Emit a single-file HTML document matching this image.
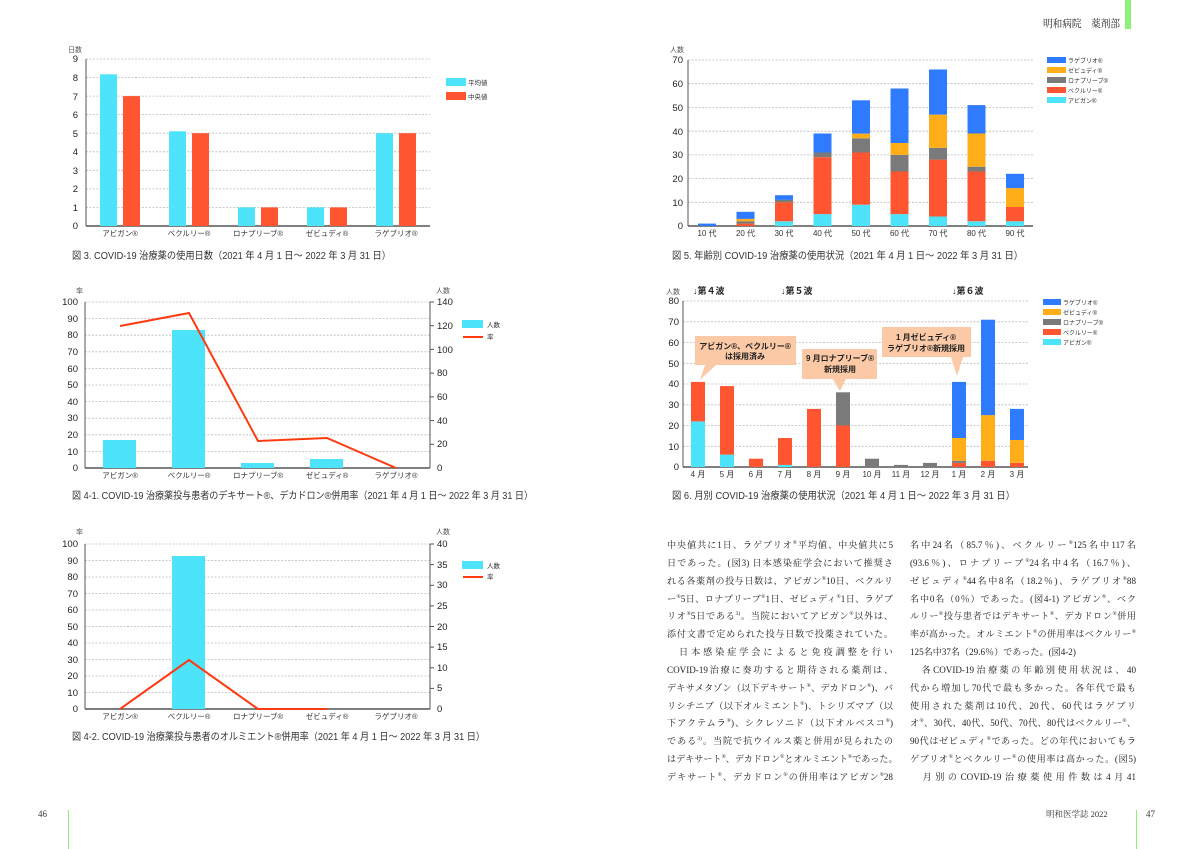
<!DOCTYPE html>
<html><head><meta charset="utf-8"><style>
html,body{margin:0;padding:0;background:#fff;width:1200px;height:849px;overflow:hidden;position:relative}
svg{position:absolute;left:0;top:0}
.tx{position:absolute;font-family:"Liberation Serif","Noto Serif CJK JP","Noto Serif CJK SC",serif;font-size:9.1px;color:#222;width:226px}
.tx div{height:17.85px;line-height:17.85px;text-align:justify;text-align-last:justify;white-space:nowrap;overflow:hidden}
.tx div.nl{text-align-last:left}
sup{font-size:5.5px;line-height:0}
</style></head><body>
<svg width="1200" height="849" viewBox="0 0 1200 849" font-family="Liberation Sans, Noto Sans CJK JP, sans-serif">
<rect x="1125" y="0" width="6" height="29" fill="#8cf27a"/>
<text x="1043" y="27" font-size="10.5" font-family="Liberation Serif, Noto Serif CJK JP, serif" fill="#222" textLength="77" lengthAdjust="spacingAndGlyphs">明和病院　薬剤部</text>
<line x1="68.5" y1="810" x2="68.5" y2="849" stroke="#8cf27a"/>
<line x1="1136.5" y1="810" x2="1136.5" y2="849" stroke="#8cf27a"/>
<text x="38" y="817" font-size="9" font-family="Liberation Serif, serif" fill="#333">46</text>
<text x="1046" y="817" font-size="8.5" font-family="Liberation Serif, Noto Serif CJK JP, serif" fill="#333">明和医学誌 2022</text>
<text x="1146" y="817" font-size="9" font-family="Liberation Serif, serif" fill="#333">47</text>

<!-- ===== Fig3 ===== -->
<g stroke="#bbb" stroke-dasharray="2,1.5" stroke-width="0.8">
<line x1="86" x2="430" y1="207.4" y2="207.4"/><line x1="86" x2="430" y1="188.9" y2="188.9"/><line x1="86" x2="430" y1="170.3" y2="170.3"/><line x1="86" x2="430" y1="151.8" y2="151.8"/><line x1="86" x2="430" y1="133.2" y2="133.2"/><line x1="86" x2="430" y1="114.6" y2="114.6"/><line x1="86" x2="430" y1="96.1" y2="96.1"/><line x1="86" x2="430" y1="77.5" y2="77.5"/><line x1="86" x2="430" y1="59" y2="59"/>
</g>
<line x1="86" y1="59" x2="86" y2="226" stroke="#555"/>
<line x1="86" y1="226" x2="430" y2="226" stroke="#555" stroke-width="1.5"/>
<g font-size="9.5" text-anchor="end" fill="#222">
<text x="78" y="229">0</text><text x="78" y="211">1</text><text x="78" y="192">2</text><text x="78" y="174">3</text><text x="78" y="155">4</text><text x="78" y="137">5</text><text x="78" y="118">6</text><text x="78" y="100">7</text><text x="78" y="81">8</text><text x="78" y="62">9</text>
</g>
<text x="68" y="52" font-size="7" fill="#555">日数</text>
<g fill="#4de3fb"><rect x="100" y="74.3" width="17" height="151.7"/><rect x="169" y="131.3" width="17" height="94.7"/><rect x="238" y="207.4" width="17" height="18.6"/><rect x="307" y="207.4" width="17" height="18.6"/><rect x="376" y="133.2" width="17" height="92.8"/></g>
<g fill="#ff5530"><rect x="123" y="96.1" width="17" height="129.9"/><rect x="192" y="133.2" width="17" height="92.8"/><rect x="261" y="207.4" width="17" height="18.6"/><rect x="330" y="207.4" width="17" height="18.6"/><rect x="399" y="133.2" width="17" height="92.8"/></g>
<g font-size="7.5" text-anchor="middle" fill="#333">
<text x="120" y="236">アビガン®</text><text x="189" y="236">ベクルリー®</text><text x="258" y="236">ロナプリーブ®</text><text x="327" y="236">ゼビュディ®</text><text x="396" y="236">ラゲブリオ®</text>
</g>
<rect x="446" y="78" width="20" height="8" fill="#4de3fb"/><rect x="446" y="92" width="20" height="8" fill="#ff5530"/>
<text x="468" y="85" font-size="6.5" fill="#333">平均値</text><text x="468" y="99" font-size="6.5" fill="#333">中央値</text>
<text x="72" y="259" font-size="10" fill="#333" textLength="319" lengthAdjust="spacingAndGlyphs">図 3. COVID-19 治療薬の使用日数（2021 年 4 月 1 日～ 2022 年 3 月 31 日）</text>

<!-- ===== Fig4-1 ===== -->
<g stroke="#bbb" stroke-dasharray="2,1.5" stroke-width="0.8">
<line x1="85" x2="430" y1="451.4" y2="451.4"/><line x1="85" x2="430" y1="434.8" y2="434.8"/><line x1="85" x2="430" y1="418.2" y2="418.2"/><line x1="85" x2="430" y1="401.6" y2="401.6"/><line x1="85" x2="430" y1="385" y2="385"/><line x1="85" x2="430" y1="368.4" y2="368.4"/><line x1="85" x2="430" y1="351.8" y2="351.8"/><line x1="85" x2="430" y1="335.2" y2="335.2"/><line x1="85" x2="430" y1="318.6" y2="318.6"/><line x1="85" x2="430" y1="302" y2="302"/>
</g>
<line x1="85" y1="302" x2="85" y2="468" stroke="#555"/><line x1="430" y1="302" x2="430" y2="468" stroke="#555"/>
<line x1="85" y1="468" x2="430" y2="468" stroke="#555" stroke-width="1.5"/>
<g stroke="#555"><line x1="430" x2="434" y1="444.3" y2="444.3"/><line x1="430" x2="434" y1="420.6" y2="420.6"/><line x1="430" x2="434" y1="396.9" y2="396.9"/><line x1="430" x2="434" y1="373.1" y2="373.1"/><line x1="430" x2="434" y1="349.4" y2="349.4"/><line x1="430" x2="434" y1="325.7" y2="325.7"/><line x1="430" x2="434" y1="302" y2="302"/></g>
<g font-size="9.5" text-anchor="end" fill="#222">
<text x="78" y="471">0</text><text x="78" y="455">10</text><text x="78" y="438">20</text><text x="78" y="421">30</text><text x="78" y="405">40</text><text x="78" y="388">50</text><text x="78" y="372">60</text><text x="78" y="355">70</text><text x="78" y="338">80</text><text x="78" y="322">90</text><text x="78" y="305">100</text>
</g>
<g font-size="9.5" fill="#222">
<text x="437" y="471">0</text><text x="437" y="447">20</text><text x="437" y="424">40</text><text x="437" y="400">60</text><text x="437" y="376">80</text><text x="437" y="353">100</text><text x="437" y="329">120</text><text x="437" y="305">140</text>
</g>
<text x="76" y="293" font-size="7" fill="#555">率</text><text x="436" y="293" font-size="7" fill="#555">人数</text>
<g fill="#4de3fb"><rect x="103" y="440" width="33" height="28"/><rect x="172" y="330" width="33" height="138"/><rect x="241" y="463" width="33" height="5"/><rect x="310" y="459" width="33" height="9"/></g>
<polyline points="120,326 189,313 258,441 327,438 396,468" fill="none" stroke="#ff3a10" stroke-width="2"/>
<g font-size="7.5" text-anchor="middle" fill="#333">
<text x="120" y="478">アビガン®</text><text x="189" y="478">ベクルリー®</text><text x="258" y="478">ロナプリーブ®</text><text x="327" y="478">ゼビュディ®</text><text x="396" y="478">ラゲブリオ®</text>
</g>
<rect x="462" y="320" width="21" height="8" fill="#4de3fb"/><line x1="463" y1="337" x2="483" y2="337" stroke="#ff3a10" stroke-width="2"/>
<text x="487" y="327" font-size="6.5" fill="#333">人数</text><text x="487" y="339" font-size="6.5" fill="#333">率</text>
<text x="72" y="499" font-size="10" fill="#333" textLength="461" lengthAdjust="spacingAndGlyphs">図 4-1. COVID-19 治療薬投与患者のデキサート®、デカドロン®併用率（2021 年 4 月 1 日～ 2022 年 3 月 31 日）</text>

<!-- ===== Fig4-2 ===== -->
<g stroke="#bbb" stroke-dasharray="2,1.5" stroke-width="0.8">
<line x1="85" x2="430" y1="692.5" y2="692.5"/><line x1="85" x2="430" y1="676" y2="676"/><line x1="85" x2="430" y1="659.5" y2="659.5"/><line x1="85" x2="430" y1="643" y2="643"/><line x1="85" x2="430" y1="626.5" y2="626.5"/><line x1="85" x2="430" y1="610" y2="610"/><line x1="85" x2="430" y1="593.5" y2="593.5"/><line x1="85" x2="430" y1="577" y2="577"/><line x1="85" x2="430" y1="560.5" y2="560.5"/><line x1="85" x2="430" y1="544" y2="544"/>
</g>
<line x1="85" y1="544" x2="85" y2="709" stroke="#555"/><line x1="430" y1="544" x2="430" y2="709" stroke="#555"/>
<line x1="85" y1="709" x2="430" y2="709" stroke="#555" stroke-width="1.5"/>
<g stroke="#555"><line x1="430" x2="434" y1="688.4" y2="688.4"/><line x1="430" x2="434" y1="667.8" y2="667.8"/><line x1="430" x2="434" y1="647.1" y2="647.1"/><line x1="430" x2="434" y1="626.5" y2="626.5"/><line x1="430" x2="434" y1="605.9" y2="605.9"/><line x1="430" x2="434" y1="585.3" y2="585.3"/><line x1="430" x2="434" y1="564.6" y2="564.6"/><line x1="430" x2="434" y1="544" y2="544"/></g>
<g font-size="9.5" text-anchor="end" fill="#222">
<text x="78" y="712">0</text><text x="78" y="696">10</text><text x="78" y="679">20</text><text x="78" y="663">30</text><text x="78" y="646">40</text><text x="78" y="630">50</text><text x="78" y="613">60</text><text x="78" y="597">70</text><text x="78" y="580">80</text><text x="78" y="564">90</text><text x="78" y="547">100</text>
</g>
<g font-size="9.5" fill="#222">
<text x="437" y="712">0</text><text x="437" y="691">5</text><text x="437" y="671">10</text><text x="437" y="650">15</text><text x="437" y="630">20</text><text x="437" y="609">25</text><text x="437" y="588">30</text><text x="437" y="568">35</text><text x="437" y="547">40</text>
</g>
<text x="76" y="534" font-size="7" fill="#555">率</text><text x="436" y="534" font-size="7" fill="#555">人数</text>
<rect x="172" y="556" width="33" height="153" fill="#4de3fb"/>
<polyline points="120,709 189,660 258,709 327,709" fill="none" stroke="#ff3a10" stroke-width="2"/>
<g font-size="7.5" text-anchor="middle" fill="#333">
<text x="120" y="719">アビガン®</text><text x="189" y="719">ベクルリー®</text><text x="258" y="719">ロナプリーブ®</text><text x="327" y="719">ゼビュディ®</text><text x="396" y="719">ラゲブリオ®</text>
</g>
<rect x="462" y="561" width="21" height="8" fill="#4de3fb"/><line x1="463" y1="577" x2="483" y2="577" stroke="#ff3a10" stroke-width="2"/>
<text x="487" y="568" font-size="6.5" fill="#333">人数</text><text x="487" y="579" font-size="6.5" fill="#333">率</text>
<text x="72" y="740" font-size="10" fill="#333" textLength="413" lengthAdjust="spacingAndGlyphs">図 4-2. COVID-19 治療薬投与患者のオルミエント®併用率（2021 年 4 月 1 日～ 2022 年 3 月 31 日）</text>

<!-- ===== Fig5 ===== -->
<g stroke="#bbb" stroke-dasharray="2,1.5" stroke-width="0.8">
<line x1="688" x2="1033" y1="202.3" y2="202.3"/><line x1="688" x2="1033" y1="178.6" y2="178.6"/><line x1="688" x2="1033" y1="154.9" y2="154.9"/><line x1="688" x2="1033" y1="131.2" y2="131.2"/><line x1="688" x2="1033" y1="107.4" y2="107.4"/><line x1="688" x2="1033" y1="83.7" y2="83.7"/><line x1="688" x2="1033" y1="60" y2="60"/>
</g>
<line x1="688" y1="60" x2="688" y2="226" stroke="#555"/>
<line x1="688" y1="226" x2="1033" y2="226" stroke="#555" stroke-width="1.5"/>
<g font-size="9.5" text-anchor="end" fill="#222">
<text x="683" y="229">0</text><text x="683" y="206">10</text><text x="683" y="182">20</text><text x="683" y="158">30</text><text x="683" y="135">40</text><text x="683" y="111">50</text><text x="683" y="87">60</text><text x="683" y="63">70</text>
</g>
<text x="670" y="52" font-size="7" fill="#555">人数</text>
<g>
<rect x="698" y="223.6" width="18" height="2.4" fill="#2f7bff"/>
<rect x="736.5" y="223.6" width="18" height="2.4" fill="#ff5530"/><rect x="736.5" y="221.2" width="18" height="2.4" fill="#7a7a7a"/><rect x="736.5" y="218.9" width="18" height="2.4" fill="#ffae1a"/><rect x="736.5" y="211.8" width="18" height="7.1" fill="#2f7bff"/>
<rect x="775" y="221.3" width="18" height="4.7" fill="#4de3fb"/><rect x="775" y="202.3" width="18" height="19" fill="#ff5530"/><rect x="775" y="199.9" width="18" height="2.4" fill="#7a7a7a"/><rect x="775" y="195.2" width="18" height="4.7" fill="#2f7bff"/>
<rect x="813.5" y="214.1" width="18" height="11.9" fill="#4de3fb"/><rect x="813.5" y="157.2" width="18" height="56.9" fill="#ff5530"/><rect x="813.5" y="152.5" width="18" height="4.7" fill="#7a7a7a"/><rect x="813.5" y="133.5" width="18" height="19" fill="#2f7bff"/>
<rect x="852" y="204.7" width="18" height="21.3" fill="#4de3fb"/><rect x="852" y="152.5" width="18" height="52.2" fill="#ff5530"/><rect x="852" y="138.3" width="18" height="14.2" fill="#7a7a7a"/><rect x="852" y="133.6" width="18" height="4.7" fill="#ffae1a"/><rect x="852" y="100.3" width="18" height="33.3" fill="#2f7bff"/>
<rect x="890.5" y="214.1" width="18" height="11.9" fill="#4de3fb"/><rect x="890.5" y="171.5" width="18" height="42.6" fill="#ff5530"/><rect x="890.5" y="154.9" width="18" height="16.6" fill="#7a7a7a"/><rect x="890.5" y="143" width="18" height="11.9" fill="#ffae1a"/><rect x="890.5" y="88.5" width="18" height="54.5" fill="#2f7bff"/>
<rect x="929" y="216.5" width="18" height="9.5" fill="#4de3fb"/><rect x="929" y="159.6" width="18" height="56.9" fill="#ff5530"/><rect x="929" y="147.8" width="18" height="11.8" fill="#7a7a7a"/><rect x="929" y="114.6" width="18" height="33.2" fill="#ffae1a"/><rect x="929" y="69.5" width="18" height="45.1" fill="#2f7bff"/>
<rect x="967.5" y="221.3" width="18" height="4.7" fill="#4de3fb"/><rect x="967.5" y="171.5" width="18" height="49.8" fill="#ff5530"/><rect x="967.5" y="166.7" width="18" height="4.8" fill="#7a7a7a"/><rect x="967.5" y="133.5" width="18" height="33.2" fill="#ffae1a"/><rect x="967.5" y="105.1" width="18" height="28.4" fill="#2f7bff"/>
<rect x="1006" y="221.3" width="18" height="4.7" fill="#4de3fb"/><rect x="1006" y="207" width="18" height="14.3" fill="#ff5530"/><rect x="1006" y="188.1" width="18" height="18.9" fill="#ffae1a"/><rect x="1006" y="173.8" width="18" height="14.3" fill="#2f7bff"/>
</g>
<g font-size="8" text-anchor="middle" fill="#333">
<text x="707" y="236">10 代</text><text x="745.5" y="236">20 代</text><text x="784" y="236">30 代</text><text x="822.5" y="236">40 代</text><text x="861" y="236">50 代</text><text x="899.5" y="236">60 代</text><text x="938" y="236">70 代</text><text x="976.5" y="236">80 代</text><text x="1015" y="236">90 代</text>
</g>
<g font-size="6" fill="#333">
<rect x="1047" y="57" width="19" height="6" fill="#2f7bff"/><text x="1068" y="63">ラゲブリオ®</text>
<rect x="1047" y="67" width="19" height="6" fill="#ffae1a"/><text x="1068" y="73">ゼビュディ®</text>
<rect x="1047" y="77" width="19" height="6" fill="#7a7a7a"/><text x="1068" y="83">ロナプリーブ®</text>
<rect x="1047" y="87" width="19" height="6" fill="#ff5530"/><text x="1068" y="93">ベクルリー®</text>
<rect x="1047" y="97" width="19" height="6" fill="#4de3fb"/><text x="1068" y="103">アビガン®</text>
</g>
<text x="672" y="259" font-size="10" fill="#333" textLength="351" lengthAdjust="spacingAndGlyphs">図 5. 年齢別 COVID-19 治療薬の使用状況（2021 年 4 月 1 日～ 2022 年 3 月 31 日）</text>

<!-- ===== Fig6 ===== -->
<g stroke="#bbb" stroke-dasharray="2,1.5" stroke-width="0.8">
<line x1="683" x2="1028" y1="446.3" y2="446.3"/><line x1="683" x2="1028" y1="425.5" y2="425.5"/><line x1="683" x2="1028" y1="404.8" y2="404.8"/><line x1="683" x2="1028" y1="384" y2="384"/><line x1="683" x2="1028" y1="363.3" y2="363.3"/><line x1="683" x2="1028" y1="342.5" y2="342.5"/><line x1="683" x2="1028" y1="321.8" y2="321.8"/><line x1="683" x2="1028" y1="301" y2="301"/>
</g>
<line x1="683" y1="301" x2="683" y2="467" stroke="#555"/>
<line x1="683" y1="467" x2="1028" y2="467" stroke="#555" stroke-width="1.5"/>
<g font-size="9.5" text-anchor="end" fill="#222">
<text x="679" y="470">0</text><text x="679" y="450">10</text><text x="679" y="429">20</text><text x="679" y="408">30</text><text x="679" y="387">40</text><text x="679" y="367">50</text><text x="679" y="346">60</text><text x="679" y="325">70</text><text x="679" y="304">80</text>
</g>
<text x="666" y="294" font-size="7" fill="#555">人数</text>
<g font-size="9" font-weight="bold" fill="#222"><text x="693" y="294">↓第４波</text><text x="781" y="294">↓第５波</text><text x="952" y="294">↓第６波</text></g>
<g>
<rect x="691" y="421.4" width="14" height="45.6" fill="#4de3fb"/><rect x="691" y="381.9" width="14" height="39.5" fill="#ff5530"/>
<rect x="720" y="454.6" width="14" height="12.4" fill="#4de3fb"/><rect x="720" y="386.1" width="14" height="68.5" fill="#ff5530"/>
<rect x="749" y="458.7" width="14" height="8.3" fill="#ff5530"/>
<rect x="778" y="464.9" width="14" height="2.1" fill="#4de3fb"/><rect x="778" y="438" width="14" height="26.9" fill="#ff5530"/>
<rect x="807" y="408.9" width="14" height="58.1" fill="#ff5530"/>
<rect x="836" y="425.5" width="14" height="41.5" fill="#ff5530"/><rect x="836" y="392.3" width="14" height="33.2" fill="#7a7a7a"/>
<rect x="865" y="458.7" width="14" height="8.3" fill="#7a7a7a"/>
<rect x="894" y="464.9" width="14" height="2.1" fill="#7a7a7a"/>
<rect x="923" y="462.9" width="14" height="4.1" fill="#7a7a7a"/>
<rect x="952" y="462.9" width="14" height="4.1" fill="#ff5530"/><rect x="952" y="460.8" width="14" height="2.1" fill="#7a7a7a"/><rect x="952" y="438" width="14" height="22.8" fill="#ffae1a"/><rect x="952" y="381.9" width="14" height="56.1" fill="#2f7bff"/>
<rect x="981" y="460.8" width="14" height="6.2" fill="#ff5530"/><rect x="981" y="415.1" width="14" height="45.7" fill="#ffae1a"/><rect x="981" y="319.7" width="14" height="95.4" fill="#2f7bff"/>
<rect x="1010" y="462.9" width="14" height="4.1" fill="#ff5530"/><rect x="1010" y="440" width="14" height="22.9" fill="#ffae1a"/><rect x="1010" y="408.9" width="14" height="31.1" fill="#2f7bff"/>
</g>
<g font-size="8" text-anchor="middle" fill="#333">
<text x="698" y="477">4 月</text><text x="727" y="477">5 月</text><text x="756" y="477">6 月</text><text x="785" y="477">7 月</text><text x="814" y="477">8 月</text><text x="843" y="477">9 月</text><text x="872" y="477">10 月</text><text x="901" y="477">11 月</text><text x="930" y="477">12 月</text><text x="959" y="477">1 月</text><text x="988" y="477">2 月</text><text x="1017" y="477">3 月</text>
</g>
<g fill="#fbc9a6">
<polygon points="695,336 796,336 796,365 716,365 700,380 705,365 695,365"/>
<polygon points="802,349 877,349 877,379 846,379 840,391 833,379 802,379"/>
<polygon points="882,327 971,327 971,357 963,357 957,376 951,357 882,357"/>
</g>
<g font-size="8" font-weight="bold" text-anchor="middle" fill="#222">
<text x="745" y="349">アビガン®、ベクルリー®</text><text x="745" y="359">は採用済み</text>
<text x="840" y="361">9 月ロナプリーブ®</text><text x="840" y="372">新規採用</text>
<text x="926" y="340">1 月ゼビュディ®</text><text x="926" y="351">ラゲブリオ®新規採用</text>
</g>
<g font-size="6" fill="#333">
<rect x="1043" y="299" width="18" height="6" fill="#2f7bff"/><text x="1063" y="305">ラゲブリオ®</text>
<rect x="1043" y="309" width="18" height="6" fill="#ffae1a"/><text x="1063" y="315">ゼビュディ®</text>
<rect x="1043" y="319" width="18" height="6" fill="#7a7a7a"/><text x="1063" y="325">ロナプリーブ®</text>
<rect x="1043" y="329" width="18" height="6" fill="#ff5530"/><text x="1063" y="335">ベクルリー®</text>
<rect x="1043" y="339" width="18" height="6" fill="#4de3fb"/><text x="1063" y="345">アビガン®</text>
</g>
<text x="672" y="499" font-size="10" fill="#333" textLength="343" lengthAdjust="spacingAndGlyphs">図 6. 月別 COVID-19 治療薬の使用状況（2021 年 4 月 1 日～ 2022 年 3 月 31 日）</text>
</svg>

<div class="tx" style="left:667px;top:537px">
<div>中央値共に1日、ラゲブリオ<sup>®</sup>平均値、中央値共に5</div>
<div>日であった。(図3) 日本感染症学会において推奨さ</div>
<div>れる各薬剤の投与日数は、アビガン<sup>®</sup>10日、ベクルリ</div>
<div>ー<sup>®</sup>5日、ロナプリーブ<sup>®</sup>1日、ゼビュディ<sup>®</sup>1日、ラゲブ</div>
<div>リオ<sup>®</sup>5日である<sup>3)</sup>。当院においてアビガン<sup>®</sup>以外は、</div>
<div>添付文書で定められた投与日数で投薬されていた。</div>
<div>　日本感染症学会によると免疫調整を行い</div>
<div>COVID-19治療に奏功すると期待される薬剤は、</div>
<div>デキサメタゾン（以下デキサート<sup>®</sup>、デカドロン<sup>®</sup>)、バ</div>
<div>リシチニブ（以下オルミエント<sup>®</sup>)、トシリズマブ（以</div>
<div>下アクテムラ<sup>®</sup>)、シクレソニド（以下オルベスコ<sup>®</sup>)</div>
<div>である<sup>3)</sup>。当院で抗ウイルス薬と併用が見られたの</div>
<div>はデキサート<sup>®</sup>、デカドロン<sup>®</sup>とオルミエント<sup>®</sup>であった。</div>
<div>デキサート<sup>®</sup>、デカドロン<sup>®</sup>の併用率はアビガン<sup>®</sup>28</div>
</div>
<div class="tx" style="left:910px;top:537px">
<div>名中24名（85.7％)、ベクルリー<sup>®</sup>125名中117名</div>
<div>(93.6％)、ロナプリーブ<sup>®</sup>24名中4名（16.7％)、</div>
<div>ゼビュディ<sup>®</sup>44名中8名（18.2％)、ラゲブリオ<sup>®</sup>88</div>
<div>名中0名（0％）であった。(図4-1) アビガン<sup>®</sup>、ベク</div>
<div>ルリー<sup>®</sup>投与患者ではデキサート<sup>®</sup>、デカドロン<sup>®</sup>併用</div>
<div>率が高かった。オルミエント<sup>®</sup>の併用率はベクルリー<sup>®</sup></div>
<div class="nl">125名中37名（29.6％）であった。(図4-2)</div>
<div>　各COVID-19治療薬の年齢別使用状況は、40</div>
<div>代から増加し70代で最も多かった。各年代で最も</div>
<div>使用された薬剤は10代、20代、60代はラゲブリ</div>
<div>オ<sup>®</sup>、30代、40代、50代、70代、80代はベクルリー<sup>®</sup>、</div>
<div>90代はゼビュディ<sup>®</sup>であった。どの年代においてもラ</div>
<div>ゲブリオ<sup>®</sup>とベクルリー<sup>®</sup>の使用率は高かった。(図5)</div>
<div>　月別のCOVID-19治療薬使用件数は4月41</div>
</div>
</body></html>
